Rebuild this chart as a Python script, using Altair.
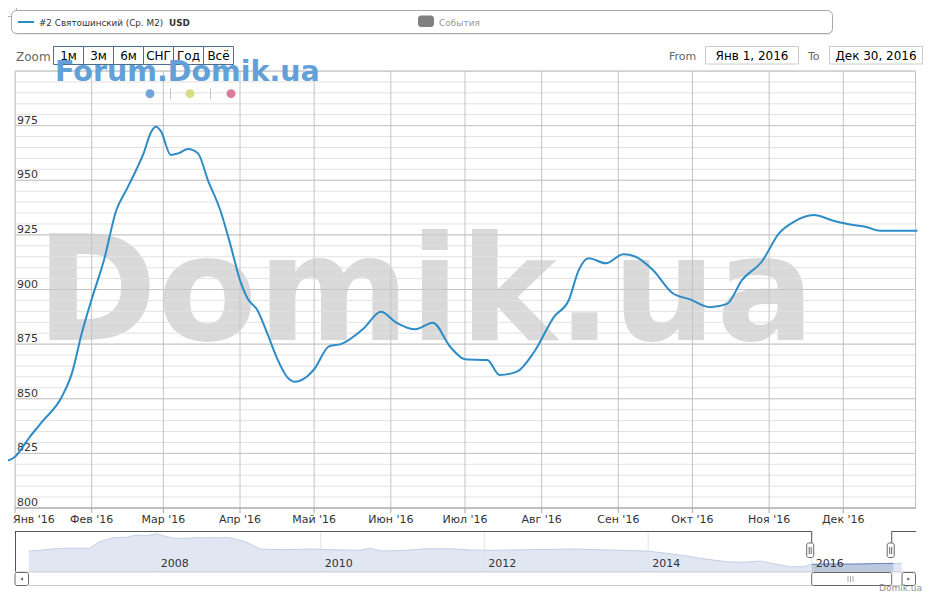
import altair as alt
import pandas as pd

FONT = "DejaVu Sans"
BLUE = "#2d8cc8"

# ---------------- main series (price, USD per m2) ----------------
line_dates = [
    "2015-12-26", "2016-01-01", "2016-01-07", "2016-01-12", "2016-01-20", "2016-01-24",
    "2016-01-28", "2016-02-01", "2016-02-06", "2016-02-11", "2016-02-15", "2016-02-19",
    "2016-02-22", "2016-02-25", "2016-02-27", "2016-02-29", "2016-03-04", "2016-03-07",
    "2016-03-11", "2016-03-15", "2016-03-19", "2016-03-24", "2016-03-28", "2016-04-01",
    "2016-04-04", "2016-04-08", "2016-04-12", "2016-04-16", "2016-04-20", "2016-04-23",
    "2016-04-28", "2016-05-01", "2016-05-07", "2016-05-12", "2016-05-21", "2016-05-28",
    "2016-06-03", "2016-06-11", "2016-06-18", "2016-06-25", "2016-07-01", "2016-07-10",
    "2016-07-15", "2016-07-22", "2016-07-29", "2016-08-06", "2016-08-12", "2016-08-16",
    "2016-08-20", "2016-08-27", "2016-09-03", "2016-09-08", "2016-09-15", "2016-09-23",
    "2016-09-30", "2016-10-08", "2016-10-15", "2016-10-21", "2016-10-29", "2016-11-05",
    "2016-11-11", "2016-11-19", "2016-11-27", "2016-12-05", "2016-12-10", "2016-12-16",
    "2016-12-31",
]
line_values = [
    820.7, 823.5, 832.6, 839.5, 851.0, 861.6,
    880.0, 895.5, 913.5, 936.4, 945.5, 954.7,
    962.3, 972.0, 974.5, 972.5, 961.6, 962.3,
    964.3, 962.3, 950.1, 936.4, 921.0, 904.3,
    896.0, 890.6, 880.0, 868.5, 860.0, 857.8,
    860.1, 863.5, 874.0, 875.1, 882.2, 889.8,
    885.0, 881.8, 884.8, 873.8, 868.1, 867.7,
    860.9, 862.4, 871.5, 887.5, 895.2, 908.9,
    914.3, 912.0, 916.1, 915.0, 908.9, 898.3,
    895.5, 891.9, 893.4, 904.3, 912.7, 925.7,
    931.0, 934.1, 931.5, 929.5, 928.7, 926.9,
    926.9,
]

month_starts = ["2016-%02d-01" % m for m in range(1, 13)]
month_labels = ["Янв '16", "Фев '16", "Мар '16", "Апр '16", "Май '16", "Июн '16",
                "Июл '16", "Авг '16", "Сен '16", "Окт '16", "Ноя '16", "Дек '16"]
y_label_ticks = [800, 825, 850, 875, 900, 925, 950, 975]
y_major_grid = [800, 825, 850, 875, 900, 925, 950, 975, 1000]
y_minor_grid = list(range(800, 1001, 5))

# ---------------- navigator series ----------------
nav_dates = [
    "2006-06-08", "2006-08-11", "2006-10-25", "2007-03-07", "2007-04-20", "2007-06-21",
    "2007-08-19", "2007-10-01", "2007-11-14", "2008-01-01", "2008-03-14", "2008-05-12",
    "2008-06-28", "2008-09-09", "2008-11-21", "2009-02-06", "2009-04-05", "2009-07-16",
    "2009-11-14", "2010-02-24", "2010-06-25", "2010-08-08", "2010-10-05", "2011-01-19",
    "2011-04-20", "2011-07-31", "2011-10-30", "2012-02-10", "2013-02-02", "2013-08-29",
    "2013-12-24", "2014-03-26", "2014-06-21", "2014-08-19", "2014-12-17", "2015-03-01",
    "2015-05-16", "2015-07-27", "2015-09-24", "2015-11-24", "2016-01-01", "2016-03-01",
    "2016-05-01", "2016-08-01", "2016-11-01", "2016-12-30", "2017-02-05",
]
nav_values = [
    1550, 1600, 1685, 1685, 2015, 2215,
    2235, 2350, 2315, 2400, 2185, 2185,
    2215, 2215, 2215, 1985, 1650, 1615,
    1650, 1615, 1585, 1685, 1550, 1585,
    1665, 1665, 1600, 1585, 1650, 1585,
    1550, 1435, 1300, 1185, 1015, 985,
    1050, 885, 765, 765, 880, 900,
    890, 900, 925, 930, 930,
]
nav_sel_dates = ["2016-01-01", "2016-03-01", "2016-05-01", "2016-08-01", "2016-11-01", "2016-12-30"]
nav_sel_values = [880, 900, 890, 900, 925, 930]
nav_year_ticks = ["2008-01-01", "2010-01-01", "2012-01-01", "2014-01-01", "2016-01-01"]
nav_year_labels = ["2008", "2010", "2012", "2014", "2016"]

zoom_buttons = ["1м", "3м", "6м", "СНГ", "Год", "Всё"]
dot_colors = ["#72a6d9", "#d6dd84", "#dd7c98"]


def T(s):
    return s + "T00:00:00"


def px(v):
    return v - 15


def py(v):
    return v - 71


ONE = pd.DataFrame({"a": [0]})

# ---------------- main plot ----------------
x_main = alt.Scale(domain=[alt.DateTime(year=2016, month=1, date=1),
                           alt.DateTime(year=2016, month=12, date=30)], nice=False)
y_main = alt.Scale(domain=[800, 1000], zero=False, nice=False)

watermark = alt.Chart(pd.DataFrame({"t": ["Domik.ua"]})).mark_text(
    font=FONT, fontSize=146, fontWeight="bold", color="#d9d9d9", align="left",
    baseline="alphabetic").encode(text="t:N", x=alt.value(px(36)), y=alt.value(py(340)))

minor = alt.Chart(pd.DataFrame({"v": y_minor_grid})).mark_rule(color="#e2e2e2", strokeWidth=1).encode(
    y=alt.Y("v:Q", scale=y_main, axis=None))
major = alt.Chart(pd.DataFrame({"v": y_major_grid})).mark_rule(color="#c4c4c4", strokeWidth=1).encode(
    y=alt.Y("v:Q", scale=y_main, axis=None))

months_df = pd.DataFrame({"d": [T(s) for s in month_starts], "t": month_labels})
vgrid = alt.Chart(months_df).mark_rule(color="#c4c4c4", strokeWidth=1).encode(
    x=alt.X("d:T", scale=x_main, axis=None))
xticks = alt.Chart(months_df).mark_rule(color="#a8a8a8", strokeWidth=1).encode(
    x=alt.X("d:T", scale=x_main, axis=None), y=alt.value(py(508)), y2=alt.value(py(513)))
xlab_first = alt.Chart(months_df.iloc[:1]).mark_text(
    font=FONT, fontSize=11, color="#333333", align="left", baseline="alphabetic", dx=-2).encode(
    x=alt.X("d:T", scale=x_main, axis=None), y=alt.value(py(523)), text="t:N")
xlab_rest = alt.Chart(months_df.iloc[1:]).mark_text(
    font=FONT, fontSize=11, color="#333333", align="center", baseline="alphabetic").encode(
    x=alt.X("d:T", scale=x_main, axis=None), y=alt.value(py(523)), text="t:N")
ylab = alt.Chart(pd.DataFrame({"v": y_label_ticks})).mark_text(
    font=FONT, fontSize=11, color="#333333", align="left", baseline="alphabetic", dy=-2).encode(
    y=alt.Y("v:Q", scale=y_main, axis=None), x=alt.value(2), text=alt.Text("v:Q"))

xdomain = alt.Chart(ONE).mark_rule(color="#a8a8a8").encode(
    x=alt.value(0), x2=alt.value(px(916)), y=alt.value(py(508)))
edge = alt.Chart(ONE).mark_rule(color="#c4c4c4").encode(
    x=alt.value(px(915.5)), y=alt.value(0), y2=alt.value(py(508)))

line = alt.Chart(pd.DataFrame({"date": [T(s) for s in line_dates], "value": line_values})).mark_line(
    color=BLUE, strokeWidth=2, interpolate="monotone").encode(
    x=alt.X("date:T", scale=x_main, axis=None),
    y=alt.Y("value:Q", scale=y_main, axis=None))

main = alt.layer(watermark, minor, major, vgrid, edge, xdomain, xticks, ylab,
                 xlab_first, xlab_rest, line)

# ---------------- navigator ----------------
nav_x = alt.Scale(domain=[alt.DateTime(year=2006, month=4, date=8),
                          alt.DateTime(year=2017, month=4, date=10)],
                  range=[0, 901], nice=False)
nav_y = alt.Scale(domain=[500, 2550], zero=False, nice=False, range=[py(572), py(531)])

nav_grid = alt.Chart(pd.DataFrame({"d": [T(s) for s in nav_year_ticks]})).mark_rule(
    color="#e4e4e4").encode(x=alt.X("d:T", scale=nav_x, axis=None),
                            y=alt.value(py(531)), y2=alt.value(py(572)))
nav_area = alt.Chart(pd.DataFrame({"d": [T(s) for s in nav_dates], "v": nav_values})).mark_area(
    color="#dde4f1", opacity=0.9, line={"color": "#c5d0e5", "strokeWidth": 1}).encode(
    x=alt.X("d:T", scale=nav_x, axis=None), y=alt.Y("v:Q", scale=nav_y, axis=None),
    y2=alt.Y2Datum(500))
nav_sel = alt.Chart(pd.DataFrame({"d": [T(s) for s in nav_sel_dates], "v": nav_sel_values})).mark_area(
    color="#a9bbd8", line={"color": "#6c87b8", "strokeWidth": 1}).encode(
    x=alt.X("d:T", scale=nav_x, axis=None), y=alt.Y("v:Q", scale=nav_y, axis=None),
    y2=alt.Y2Datum(500))
nav_labels = alt.Chart(pd.DataFrame({"d": [T(s) for s in nav_year_ticks], "t": nav_year_labels})).mark_text(
    align="left", dx=4, font=FONT, fontSize=11, color="#333333", baseline="alphabetic").encode(
    x=alt.X("d:T", scale=nav_x, axis=None), y=alt.value(py(567)), text="t:N")

nav = alt.layer(nav_grid, nav_area, nav_sel, nav_labels)

# ---------------- chrome helpers ----------------
chrome = []


def rect(x1, y1, x2, y2, fill="#ffffff", stroke=None, sw=1, r=0, opacity=1):
    kw = dict(fill=fill, cornerRadius=r, opacity=opacity)
    if stroke:
        kw.update(stroke=stroke, strokeWidth=sw)
    chrome.append(alt.Chart(ONE).mark_rect(**kw).encode(
        x=alt.value(px(x1)), x2=alt.value(px(x2)), y=alt.value(py(y1)), y2=alt.value(py(y2))))


def seg(x1, y1, x2, y2, color, sw=1):
    chrome.append(alt.Chart(ONE).mark_rule(color=color, strokeWidth=sw).encode(
        x=alt.value(px(x1)), x2=alt.value(px(x2)), y=alt.value(py(y1)), y2=alt.value(py(y2))))


def txt(s, x, y, size, color, weight="normal", align="left"):
    chrome.append(alt.Chart(pd.DataFrame({"t": [s]})).mark_text(
        font=FONT, fontSize=size, color=color, fontWeight=weight, align=align,
        baseline="alphabetic").encode(text="t:N", x=alt.value(px(x)), y=alt.value(py(y))))


def tri(x, y, shape):
    chrome.append(alt.Chart(ONE).mark_point(shape=shape, filled=True, size=10, color="#555555",
                                            opacity=1).encode(x=alt.value(px(x)), y=alt.value(py(y))))


# top-left tiny box
rect(0.5, 0.5, 16.5, 16.5, stroke="#b0b0b0", r=3)
# legend box
rect(12, 12, 833, 35, fill="#000000", r=5, opacity=0.08)
rect(11.5, 10.5, 832.5, 33.5, stroke="#a8a8a8", r=5)
seg(18, 22, 34, 22, BLUE, 2)
txt("#2 Святошинский (Ср. M2)", 39, 26, 8.8, "#333333")
txt("USD", 169, 26, 8.8, "#333333", weight="bold")
rect(418, 15.5, 434, 27, fill="#808080", r=3)
txt("События", 439, 26, 9, "#999999")

# range selector
txt("Zoom", 16, 61, 12, "#666666")
for i, lab in enumerate(zoom_buttons):
    x1 = 53.5 + 30 * i
    rect(x1, 46.5, x1 + 30, 64.5, stroke="#4d6d93")
    txt(lab, x1 + 15, 60, 12, "#000000", align="center")
txt("From", 669, 60, 11, "#666666")
rect(705.5, 46.5, 798.5, 64, stroke="#cccccc")
txt("Янв 1, 2016", 752, 60, 12, "#000000", align="center")
txt("To", 808, 60, 11, "#666666")
rect(829.5, 46.5, 922.5, 64, stroke="#cccccc")
txt("Дек 30, 2016", 876, 60, 12, "#000000", align="center")

# forum watermark and dots
txt("Forum.Domik.ua", 55, 81, 28.5, "#62a0d8", weight="bold")
for cx, col in zip([150, 190, 231], dot_colors):
    chrome.append(alt.Chart(ONE).mark_circle(size=80, color=col, opacity=1).encode(
        x=alt.value(px(cx)), y=alt.value(py(93.7))))
seg(170.5, 88, 170.5, 99.5, "#c8c8c8")
seg(210.5, 88, 210.5, 99.5, "#c8c8c8")

# navigator outline
seg(15, 531.5, 811.7, 531.5, "#555555")
seg(891.7, 531.5, 916, 531.5, "#555555")
seg(15.5, 531.5, 15.5, 572, "#555555")
seg(811.7, 531.5, 811.7, 543, "#555555")
seg(891.7, 531.5, 891.7, 543, "#555555")
seg(15, 572, 916, 572, "#cccccc")
for c in [810.2, 890.7]:
    rect(c - 3.5, 543, c + 3.5, 557.5, stroke="#666666", r=2)
    seg(c - 1, 547, c - 1, 554, "#666666")
    seg(c + 1, 547, c + 1, 554, "#666666")

# scrollbar
seg(28.7, 585.5, 902, 585.5, "#cccccc")
rect(15, 572.5, 28.5, 585.5, stroke="#666666", r=2)
tri(21.7, 579, "triangle-left")
rect(902, 572.5, 915.5, 585.5, stroke="#666666", r=2)
tri(908.7, 579, "triangle-right")
rect(811.7, 572.5, 891.7, 585.5, stroke="#666666", r=2)
for gx in [848, 850.5, 853]:
    seg(gx, 576, gx, 582, "#aaaaaa")

# credit
txt("Domik.ua", 879, 591, 9, "#909090")

chart = alt.layer(main, nav, *chrome).resolve_scale(x="independent", y="independent").properties(
    width=900, height=437,
    autosize=alt.AutoSizeParams(type="none"),
    padding={"left": 7, "top": 63, "right": 8, "bottom": 84},
).configure_view(stroke=None).configure(font=FONT)

chart.save("out.html", embed_options={"renderer": "svg", "actions": False})
